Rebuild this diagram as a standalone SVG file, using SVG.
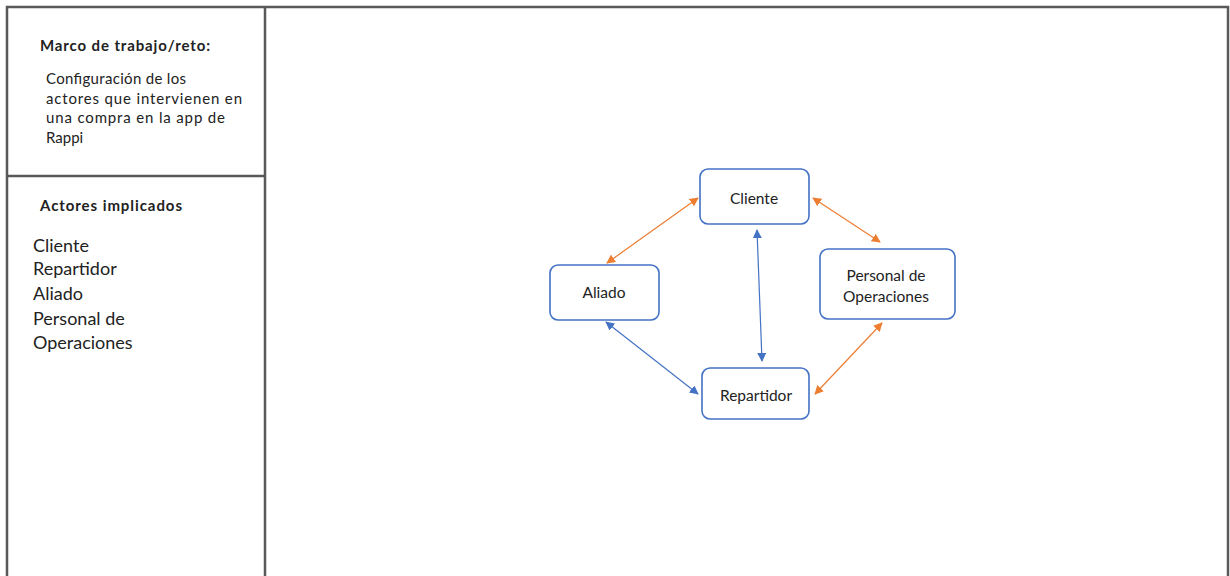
<svg xmlns="http://www.w3.org/2000/svg" width="1230" height="576" viewBox="0 0 1230 576">
<defs>
<style>
.frame{fill:none;stroke:#595959;stroke-width:2.5}
.node{fill:#fff;stroke:#4472C4;stroke-width:1.6}
.lbl{font-family:Lato,"Open Sans",sans-serif;font-size:15.5px;fill:#222;text-anchor:middle}
.side{font-family:Lato,"Open Sans",sans-serif;fill:#222}
.o{stroke:#ED7D31;stroke-width:1.2;fill:none;marker-start:url(#ao);marker-end:url(#ao)}
.b{stroke:#4472C4;stroke-width:1.2;fill:none;marker-start:url(#ab);marker-end:url(#ab)}
</style>
<marker id="ao" viewBox="0 0 10 10" refX="9" refY="5" markerWidth="9" markerHeight="9" markerUnits="userSpaceOnUse" orient="auto-start-reverse"><path d="M0,0 L10,5 L0,10 z" fill="#ED7D31"/></marker>
<marker id="ab" viewBox="0 0 10 10" refX="9" refY="5" markerWidth="9" markerHeight="9" markerUnits="userSpaceOnUse" orient="auto-start-reverse"><path d="M0,0 L10,5 L0,10 z" fill="#4472C4"/></marker>
</defs>
<rect width="1230" height="576" fill="#fff"/>
<g id="frame">
<path class="frame" d="M7,580 L7,7 L1228,7 L1228,580"/>
<line class="frame" x1="265" y1="7" x2="265" y2="580"/>
<line class="frame" x1="7" y1="176" x2="265" y2="176"/>
</g>
<g id="panel-marco">
<text class="side" x="40" y="51" font-size="15" font-weight="bold" textLength="170" lengthAdjust="spacing">Marco de trabajo/reto:</text>
<text class="side" x="46" y="84" font-size="15" textLength="140" lengthAdjust="spacing">Configuración de los</text>
<text class="side" x="46" y="104" font-size="15" textLength="196" lengthAdjust="spacing">actores que intervienen en</text>
<text class="side" x="46" y="123" font-size="15" textLength="179" lengthAdjust="spacing">una compra en la app de</text>
<text class="side" x="46" y="143" font-size="15">Rappi</text>
</g>
<g id="panel-actores">
<text class="side" x="40" y="211" font-size="15" font-weight="bold" textLength="142" lengthAdjust="spacing">Actores implicados</text>
<text class="side" x="33" y="252" font-size="18">Cliente</text>
<text class="side" x="33" y="275" font-size="18">Repartidor</text>
<text class="side" x="33" y="300" font-size="18">Aliado</text>
<text class="side" x="33" y="325" font-size="18">Personal de</text>
<text class="side" x="33" y="349" font-size="18">Operaciones</text>
</g>
<g id="connectors">
<line class="o" x1="607" y1="263" x2="698" y2="198"/>
<line class="o" x1="813" y1="198" x2="880" y2="242"/>
<line class="b" x1="757" y1="230" x2="762" y2="361"/>
<line class="b" x1="606" y1="322" x2="698" y2="394"/>
<line class="o" x1="882" y1="323" x2="815" y2="394"/>
</g>
<g id="node-cliente">
<rect class="node" x="700" y="169" width="109" height="55" rx="8"/>
<text class="lbl" x="754" y="204">Cliente</text>
</g>
<g id="node-aliado">
<rect class="node" x="550" y="265" width="109" height="55" rx="8"/>
<text class="lbl" x="604" y="298">Aliado</text>
</g>
<g id="node-personal">
<rect class="node" x="820" y="249" width="135" height="70" rx="8"/>
<text class="lbl" x="886" y="281">Personal de</text>
<text class="lbl" x="886" y="302">Operaciones</text>
</g>
<g id="node-repartidor">
<rect class="node" x="702" y="368" width="107" height="51" rx="8"/>
<text class="lbl" x="756" y="401">Repartidor</text>
</g>
</svg>
